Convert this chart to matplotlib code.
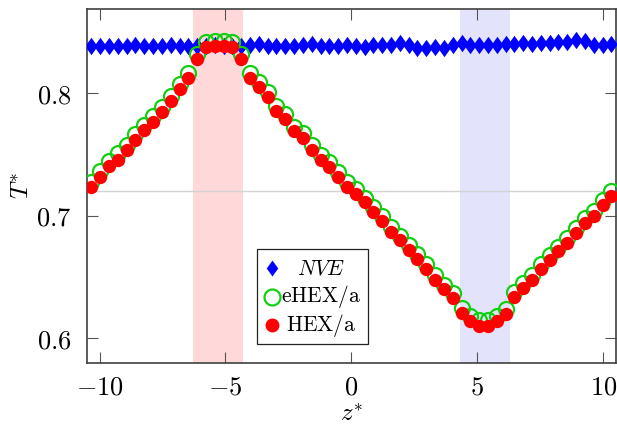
import matplotlib
matplotlib.use("Agg")
import matplotlib.pyplot as plt
from matplotlib.patches import Rectangle

plt.rcParams['mathtext.fontset'] = 'cm'
plt.rcParams['font.family'] = 'serif'
plt.rcParams['font.serif'] = ['DejaVu Serif']

# bin centres along z*
z = [-10.325, -9.975, -9.625, -9.275, -8.925, -8.575, -8.225, -7.875, -7.525, -7.175,
     -6.825, -6.475, -6.125, -5.775, -5.425, -5.075, -4.725, -4.375, -4.025, -3.675,
     -3.325, -2.975, -2.625, -2.275, -1.925, -1.575, -1.225, -0.875, -0.525, -0.175,
     0.175, 0.525, 0.875, 1.225, 1.575, 1.925, 2.275, 2.625, 2.975, 3.325,
     3.675, 4.025, 4.375, 4.725, 5.075, 5.425, 5.775, 6.125, 6.475, 6.825,
     7.175, 7.525, 7.875, 8.225, 8.575, 8.925, 9.275, 9.625, 9.975, 10.325]

T_nve = [0.839, 0.839, 0.8385, 0.839, 0.839, 0.8395, 0.839, 0.8385, 0.839, 0.8395,
         0.839, 0.8385, 0.839, 0.839, 0.8395, 0.839, 0.8385, 0.839, 0.8395, 0.8405,
         0.839, 0.8385, 0.839, 0.8385, 0.8395, 0.8405, 0.839, 0.8385, 0.839, 0.8392,
         0.8384, 0.8378, 0.8392, 0.8392, 0.8397, 0.8411, 0.8392, 0.8370, 0.8373, 0.8378,
         0.8373, 0.8392, 0.8411, 0.8392, 0.8392, 0.8392, 0.8392, 0.8400, 0.8400, 0.8411,
         0.8405, 0.8411, 0.8411, 0.8420, 0.8420, 0.8433, 0.8430, 0.8397, 0.8392, 0.8405]

T_ehex = [0.728, 0.737, 0.745, 0.751, 0.758, 0.767, 0.774, 0.782, 0.789, 0.798,
          0.808, 0.817, 0.832, 0.842, 0.843, 0.843, 0.842, 0.832, 0.817, 0.809,
          0.801, 0.790, 0.783, 0.773, 0.768, 0.758, 0.750, 0.744, 0.736, 0.728,
          0.722, 0.715, 0.707, 0.700, 0.691, 0.684, 0.676, 0.669, 0.661, 0.652,
          0.644, 0.637, 0.625, 0.618, 0.615, 0.615, 0.618, 0.624, 0.638, 0.645,
          0.652, 0.661, 0.668, 0.675, 0.682, 0.690, 0.698, 0.704, 0.713, 0.720]

T_hex = [0.724, 0.732, 0.741, 0.746, 0.754, 0.762, 0.770, 0.777, 0.785, 0.794,
         0.804, 0.813, 0.828, 0.838, 0.839, 0.839, 0.838, 0.828, 0.813, 0.805,
         0.797, 0.786, 0.779, 0.769, 0.764, 0.754, 0.746, 0.740, 0.732, 0.724,
         0.718, 0.711, 0.703, 0.696, 0.687, 0.680, 0.672, 0.665, 0.657, 0.648,
         0.640, 0.633, 0.621, 0.614, 0.610, 0.610, 0.614, 0.620, 0.634, 0.641,
         0.648, 0.657, 0.664, 0.671, 0.678, 0.686, 0.694, 0.700, 0.709, 0.716]

hot_region = [-6.3, -4.3]
cold_region = [4.3, 6.3]
T_mean = 0.72

xticks = [-10, -5, 0, 5, 10]
xticklabels = [r'$-10$', r'$-5$', r'$0$', r'$5$', r'$10$']
yticks = [0.6, 0.7, 0.8]
yticklabels = [r'$0.6$', r'$0.7$', r'$0.8$']
labels = [r'$NVE$', r'$\mathrm{eHEX/a}$', r'$\mathrm{HEX/a}$']

# diamond a bit wider than matplotlib's thin 'd'
diamond = [(0, 1), (0.72, 0), (0, -1), (-0.72, 0), (0, 1)]
styles = [
    dict(marker=diamond, color='#0000ff', ms=12.5, mew=0),
    dict(marker='o', mfc='none', mec='#11d011', ms=10.8, mew=1.6),
    dict(marker='o', color='#ff0000', ms=9.6, mew=0),
]

fig = plt.figure(figsize=(6.17, 4.25), dpi=100)
ax = fig.add_axes([0.141, 0.146, 0.857, 0.833])

ax.axvspan(hot_region[0], hot_region[1], color='#ffd9d9', lw=0, zorder=0)
ax.axvspan(cold_region[0], cold_region[1], color='#e3e3fb', lw=0, zorder=0)
ax.axhline(T_mean, color='#d3d3d3', lw=1.0, zorder=1)

for k, T in enumerate([T_nve, T_ehex, T_hex]):
    ax.plot(z, T, ls='none', zorder=3 + k, **styles[k])

ax.set_xlim(-10.5, 10.5)
ax.set_ylim(0.58, 0.869)
ax.set_xticks(xticks, labels=xticklabels)
ax.set_yticks(yticks, labels=yticklabels)
ax.tick_params(direction='in', length=8, width=0.8, color='#555555',
               top=True, right=True, labelsize=19)
ax.tick_params(axis='x', pad=8)
ax.tick_params(axis='y', pad=11)
for sp in ax.spines.values():
    sp.set_color('#404040')
    sp.set_linewidth(1.2)

ax.set_xlabel(r'$z^{*}$', fontsize=18, labelpad=3)
ax.set_ylabel(r'$T^{*}$', fontsize=18, labelpad=2)

# legend box with centred entry text
ax.add_patch(Rectangle((0.321, 0.054), 0.21, 0.268, transform=ax.transAxes,
                       facecolor='white', edgecolor='#222222', lw=0.9, zorder=10))
leg_ms = [11.5, 11.5, 10.0]
for k, y in enumerate([0.2675, 0.187, 0.107]):
    st = dict(styles[k], ms=leg_ms[k])
    ax.plot([0.35], [y], transform=ax.transAxes, clip_on=False, zorder=11, **st)
    ax.text(0.442, y, labels[k], transform=ax.transAxes, fontsize=15.5,
            ha='center', va='center', zorder=11)

fig.savefig('out.png', dpi=100)
